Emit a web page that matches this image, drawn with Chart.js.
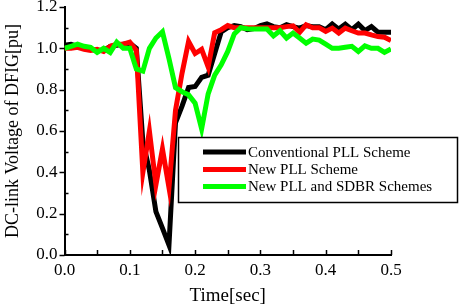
<!DOCTYPE html>
<html>
<head>
<meta charset="utf-8">
<script src="https://cdn.jsdelivr.net/npm/chart.js@4/dist/chart.umd.min.js"></script>
<style>
html,body{margin:0;padding:0;background:#fff;}
#wrap{width:459px;height:307px;position:relative;}
</style>
</head>
<body>
<div id="wrap"><canvas id="c" width="459" height="307"></canvas></div>
<script>
const time = [0.00,0.01,0.02,0.03,0.04,0.05,0.06,0.07,0.08,0.09,
  0.10,0.11,0.12,0.13,0.14,0.15,0.16,0.17,0.18,0.19,
  0.20,0.21,0.22,0.23,0.24,0.25,0.26,0.27,0.28,0.29,
  0.30,0.31,0.32,0.33,0.34,0.35,0.36,0.37,0.38,0.39,
  0.40,0.41,0.42,0.43,0.44,0.45,0.46,0.47,0.48,0.49,0.50];
const conventionalPLL = [1.015,1.02,1.01,1.00,0.995,0.99,0.99,1.01,1.015,1.02,
  1.025,1.00,0.55,0.41,0.21,0.13,0.048,0.64,0.72,0.81,
  0.815,0.86,0.87,0.975,1.08,1.10,1.11,1.105,1.09,1.095,
  1.11,1.118,1.105,1.10,1.114,1.105,1.098,1.11,1.105,1.105,
  1.09,1.118,1.093,1.117,1.09,1.117,1.086,1.105,1.078,1.078,1.078];
const newPLL = [1.00,1.00,1.005,0.995,0.99,0.995,0.985,1.01,1.02,1.02,
  1.03,0.99,0.40,0.60,0.34,0.513,0.326,0.70,0.88,1.033,
  0.975,0.995,0.91,1.075,1.09,1.11,1.10,1.10,1.10,1.10,
  1.10,1.10,1.10,1.10,1.105,1.109,1.077,1.114,1.10,1.10,
  1.082,1.098,1.074,1.098,1.085,1.074,1.074,1.065,1.057,1.054,1.038];
const newPLLandSDBR = [1.00,1.01,1.02,1.01,1.005,0.98,1.00,0.98,1.03,1.00,
  1.00,0.90,0.89,1.00,1.05,1.08,0.95,0.81,0.79,0.775,
  0.735,0.61,0.78,0.87,0.92,0.985,1.07,1.10,1.095,1.093,
  1.093,1.093,1.06,1.085,1.05,1.074,1.05,1.025,1.045,1.04,
  1.02,1.00,1.00,1.005,1.01,0.985,1.012,1.00,1.00,0.98,0.997];
const seriesLabels = ['Conventional PLL Scheme','New PLL Scheme','New PLL and SDBR Schemes'];
const seriesColors = ['#000000','#ff0000','#00ff00'];
const xTicks = [0.0,0.1,0.2,0.3,0.4,0.5];
const yTicks = [0.0,0.2,0.4,0.6,0.8,1.0,1.2];

const FONT = '"Liberation Serif", "Times New Roman", serif';
const allSeries = [conventionalPLL, newPLL, newPLLandSDBR];
const datasets = allSeries.map((vals,i)=>({
  label: seriesLabels[i],
  data: time.map((t,k)=>({x:t, y:vals[k]})),
  borderColor: seriesColors[i],
  backgroundColor: seriesColors[i],
  borderWidth: 5,
  pointRadius: 0,
  tension: 0,
  borderJoinStyle: 'miter',
  order: 3 - i
}));

const tickPlugin = {
  id: 'axisTicks',
  afterDraw(chart){
    const ctx = chart.ctx, xs = chart.scales.x, ys = chart.scales.y;
    const ca = chart.chartArea;
    ctx.save();
    ctx.strokeStyle = '#000';
    ctx.lineWidth = 1.5;
    for(let v=0; v<=0.5001; v+=0.05){
      const px = Math.round(xs.getPixelForValue(v))+0.5;
      ctx.beginPath(); ctx.moveTo(px, ca.bottom); ctx.lineTo(px, ca.bottom-5); ctx.stroke();
    }
    for(let k=0; k<=12; k++){
      const v = k/10;
      const py = Math.round(ys.getPixelForValue(v))+0.5;
      ctx.beginPath();
      if(k%2===0){ ctx.moveTo(ca.left, py); ctx.lineTo(ca.left-5, py); }
      else { ctx.moveTo(ca.left, py); ctx.lineTo(ca.left+4, py); }
      ctx.stroke();
    }
    // legend box
    const bx=178, by=137, bw=279, bh=65;
    ctx.fillStyle='#fff';
    ctx.fillRect(bx,by,bw,bh);
    ctx.lineWidth=1.5;
    ctx.strokeRect(bx+0.5,by+0.5,bw,bh);
    const rows=[152,169.5,186.5];
    ctx.font = '15px ' + FONT;
    ctx.textBaseline='middle';
    ctx.textAlign='left';
    chart.data.datasets.forEach((ds,i)=>{
      ctx.strokeStyle = ds.borderColor;
      ctx.lineWidth = 5;
      ctx.beginPath(); ctx.moveTo(203, rows[i]); ctx.lineTo(246, rows[i]); ctx.stroke();
      ctx.fillStyle='#000';
      ctx.fillText(ds.label, 248, rows[i]+1);
    });
    ctx.restore();
  }
};

new Chart(document.getElementById('c'), {
  type: 'line',
  data: { datasets },
  options: {
    responsive: false,
    animation: false,
    layout: { padding: { top: 7, right: 68, left: 0, bottom: 0 } },
    plugins: { legend: { display: false }, tooltip: { enabled: false } },
    scales: {
      x: {
        type: 'linear', min: 0, max: 0.5,
        afterFit(s){ s.height = 52; s.paddingLeft = 0; s.paddingRight = 0; },
        afterBuildTicks(s){ s.ticks = xTicks.map(v=>({value:v})); },
        ticks: { color:'#000', font:{family:FONT, size:17}, padding:5, maxRotation:0,
          callback: v => Number(v).toFixed(1) },
        grid: { display:false, drawTicks:false },
        border: { display:true, color:'#000', width:2 },
        title: { display:true, text:'Time[sec]', color:'#000', font:{family:FONT, size:19}, padding:{top:4, bottom:0} }
      },
      y: {
        type: 'linear', min: 0, max: 1.2,
        afterFit(s){ s.width = 64.5; s.paddingTop = 0; s.paddingBottom = 0; },
        afterBuildTicks(s){ s.ticks = yTicks.map(v=>({value:v})); },
        ticks: { color:'#000', font:{family:FONT, size:17}, padding:7,
          callback: v => Number(v).toFixed(1) },
        grid: { display:false, drawTicks:false },
        border: { display:true, color:'#000', width:2 },
        title: { display:true, text:'DC-link Voltage of DFIG[pu]', color:'#000', font:{family:FONT, size:18}, padding:{top:2, bottom:2} }
      }
    }
  },
  plugins: [tickPlugin]
});
</script>
</body>
</html>
